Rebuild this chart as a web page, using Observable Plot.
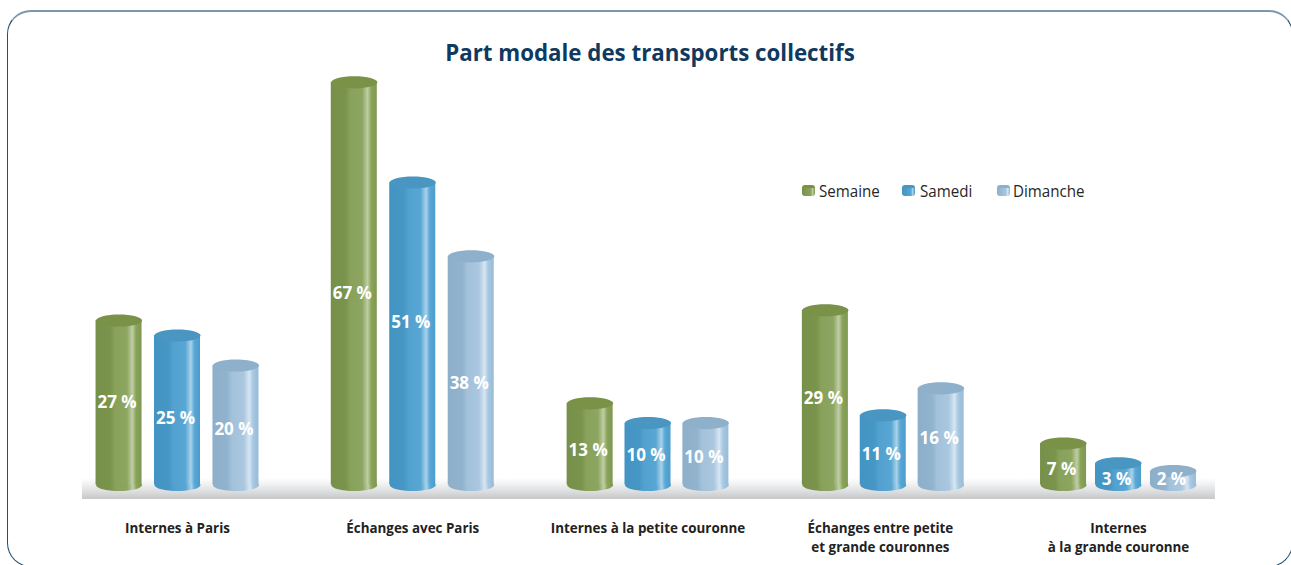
<!DOCTYPE html>
<html lang="fr"><head><meta charset="utf-8">
<script src="https://cdn.jsdelivr.net/npm/d3@7"></script>
<script src="https://cdn.jsdelivr.net/npm/@observablehq/plot@0.6"></script>
<style>
html,body{margin:0;padding:0;background:#fff;overflow:hidden}
#page{position:relative;width:1291px;height:565px;overflow:hidden;font-family:"Open Sans",sans-serif}
#frame{position:absolute;left:7px;top:10px;width:1286px;height:557px;box-sizing:border-box;border:1px solid #1d5274;border-top:2px solid #7a97ad;border-radius:24px}
#title{position:absolute;left:0;width:1300px;top:37px;text-align:center;font-weight:700;font-size:22.3px;line-height:32px;color:#0f3a60}
#chart{position:absolute;left:0;top:0}
#legend{position:absolute;top:180px;left:0;font-family:"Open Sans",sans-serif;font-size:16px;line-height:22px;color:#262626}
.it{position:absolute;white-space:nowrap;transform-origin:left center;transform:scaleX(.945);display:block}
.sw{position:absolute;width:13px;height:11px;border-radius:3px/3px}
</style></head><body>
<div id="page"><div id="frame"></div><div id="chart"></div>
<div id="title">Part modale des transports collectifs</div><div id="legend"></div></div>
<script>
const categories = ["Internes à Paris","Échanges avec Paris","Internes à la petite couronne","Échanges entre petite\net grande couronnes","Internes\nà la grande couronne"];
const seriesNames = ["Semaine","Samedi","Dimanche"];
// printed percentages
const semaine = [27,67,13,29,7];
const samedi = [25,51,10,11,3];
const dimanche = [20,38,10,16,2];
// bar heights as measured on the picture, in the same unit
const semaineDrawn = [27.5,67.2,13.7,29.2,7];
const samediDrawn = [25,50.5,10.4,11.7,3.7];
const dimancheDrawn = [20,38.2,10.4,16.2,2.4];
// heights at which the printed labels sit, in the same unit
const semaineLabel = [13.8,32,5.8,14.5,2.7];
const samediLabel = [11.2,27.1,5,5.2,1];
const dimancheLabel = [9.3,17,4.7,7.8,1];
const seriesValues = [semaine,samedi,dimanche];
const seriesDrawn = [semaineDrawn,samediDrawn,dimancheDrawn];
const seriesLabel = [semaineLabel,samediLabel,dimancheLabel];
const palette = {
  Semaine:{top:"#7a9148",stops:["#76904a","#7b944c","#88a15b","#8ca560","#bfcea5","#8aa35a","#7f9850"]},
  Samedi:{top:"#4896c1",stops:["#4294c2","#4797c5","#52a1cf","#58a6d3","#a9d2ea","#58a7d6","#4c9dcb"]},
  Dimanche:{top:"#8fb0cb",stops:["#8eafca","#92b3ce","#a2c1da","#aac7df","#d6e6f3","#a8c8e2","#97bad6"]}
};
const stopAt = [0,.32,.42,.68,.8,.88,1];

const groupOffset = 0.2485, barHalf = 0.0978, spread = [1,1,.99,.99,.94];
const rows = seriesNames.flatMap((s,si) => categories.map((c,gi) => ({
  series:s, category:c, value:seriesValues[si][gi], drawn:seriesDrawn[si][gi], labelAt:seriesLabel[si][gi], group:gi,
  x:gi + (si-1)*groupOffset*spread[gi]
})));
const ellipse = {draw(ctx,size){
  const rx = Math.sqrt(size/Math.PI), ry = rx*.265, k=.5523;
  ctx.moveTo(-rx,0);
  ctx.bezierCurveTo(-rx,-ry*k,-rx*k,-ry,0,-ry);
  ctx.bezierCurveTo(rx*k,-ry,rx,-ry*k,rx,0);
  ctx.bezierCurveTo(rx,ry*k,rx*k,ry,0,ry);
  ctx.bezierCurveTo(-rx*k,ry,-rx,ry*k,-rx,0);
  ctx.closePath();
}};
const defsMark = () => {
  const d=d3.create("svg:defs");
  seriesNames.forEach(s=>{
    const g=d.append("linearGradient").attr("id","g-"+s);
    palette[s].stops.forEach((c,i)=>g.append("stop").attr("offset",stopAt[i]).attr("stop-color",c));
  });
  const f=d.append("linearGradient").attr("id","floor").attr("x1",0).attr("x2",0).attr("y1",0).attr("y2",1);
  [[0,"#ffffff"],[.3,"#f1f1f2"],[.65,"#dcddde"],[1,"#c6c7c9"]].forEach(([o,c])=>f.append("stop").attr("offset",o).attr("stop-color",c));
  return d.node();
};
const floorBand = [{x1:-0.404,x2:4.412,y1:-2.33,y2:1.17}];
const cyl = seriesNames.flatMap(s => {
  const data = rows.filter(r=>r.series===s), fill="url(#g-"+s+")";
  return [
    Plot.dot(data,{x:"x",y:()=>0.08,r:23,symbol:ellipse,fill}),
    Plot.rect(data,{x1:d=>d.x-barHalf,x2:d=>d.x+barHalf,y1:()=>0.08,y2:"drawn",fill}),
    Plot.dot(data,{x:"x",y:"drawn",r:23,symbol:ellipse,fill:palette[s].top})
  ];
});
const chart = Plot.plot({
  width:1291,height:565,marginTop:0,marginRight:0,marginBottom:80,marginLeft:0,
  x:{domain:[-177/235.25,(1291-177)/235.25],range:[0,1291]},
  y:{domain:[0,485/6],range:[485,0],axis:null},
  style:{background:"transparent",overflow:"visible"},
  marks:[
    defsMark,
    Plot.rect(floorBand,{x1:"x1",x2:"x2",y1:"y1",y2:"y2",fill:"url(#floor)"}),
    ...cyl,
    Plot.text(rows,{x:"x",y:"labelAt",dx:-2,text:d=>d.value+" %",fill:"#fff",fontWeight:700,fontSize:17,fontFamily:"Open Sans"}),
    Plot.axisX({ticks:[0,1,2,2.988,4],tickFormat:i=>categories[Math.round(i)],tickSize:0,tickPadding:35,label:null,fontWeight:700,fontSize:13.4,fontFamily:"Open Sans",fill:"#222",lineHeight:1.36})
  ]
});
document.getElementById("chart").append(chart);
const legendPos=[[802,819],[902,920],[997,1013]];
const leg=document.getElementById("legend");
seriesNames.forEach((s,i)=>{
  const sw=document.createElement("span");sw.className="sw";
  sw.style.left=legendPos[i][0]+"px";sw.style.top="5px";
  sw.style.background="linear-gradient(to bottom,"+palette[s].top+" 0 30%,transparent 30%),linear-gradient(to right,"+palette[s].stops[0]+","+palette[s].stops[3]+" 70%,"+palette[s].stops[4]+" 80%,"+palette[s].stops[6]+")";
  const t=document.createElement("span");t.className="it";t.textContent=s;t.style.left=legendPos[i][1]+"px";t.style.top="0";
  leg.append(sw,t);
});
</script></body></html>
